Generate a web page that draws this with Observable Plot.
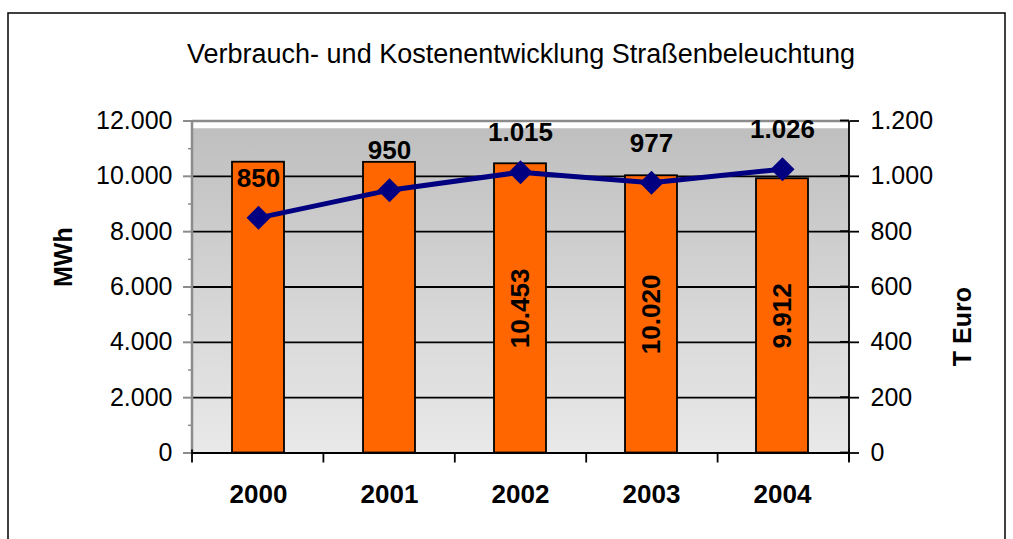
<!DOCTYPE html>
<html>
<head>
<meta charset="utf-8">
<script src="https://cdn.jsdelivr.net/npm/d3@7"></script>
<script src="https://cdn.jsdelivr.net/npm/@observablehq/plot@0.6"></script>
<style>
  html, body { margin: 0; padding: 0; background: white; }
  #chart svg { display: block; }
</style>
</head>
<body>
<div id="chart"></div>
<script>
// ---- data ----
const title = "Verbrauch- und Kostenentwicklung Straßenbeleuchtung";
const years = ["2000", "2001", "2002", "2003", "2004"];
const mwh = [10510, 10505, 10453, 10020, 9912];      // Verbrauch (MWh), left axis
const cost = [850, 950, 1015, 977, 1026];            // Kosten (T Euro), right axis
const showBarLabel = [false, false, true, true, true];
const mwhTicks = [0, 2000, 4000, 6000, 8000, 10000, 12000];
const mwhMinorTicks = [1000, 3000, 5000, 7000, 9000, 11000];
const costTicks = [0, 200, 400, 600, 800, 1000, 1200];
const leftLabel = "MWh";
const rightLabel = "T Euro";

const costFactor = 10; // 1 T Euro on right axis == 10 MWh on left axis
const fmt = d3.formatLocale({decimal: ",", thousands: ".", grouping: [3], currency: ["", " €"]}).format(",d");

const data = years.map((year, i) => ({year, mwh: mwh[i], cost: cost[i], showBar: showBarLabel[i]}));

const FONT = "'Liberation Sans', Arial, Helvetica, sans-serif";

function background(index, scales, values, dimensions) {
  const {width, marginLeft, marginRight} = dimensions;
  const g = d3.create("svg:g");
  const grad = g.append("defs").append("linearGradient")
    .attr("id", "bgGrad").attr("x1", 0).attr("y1", 0).attr("x2", 0).attr("y2", 1);
  grad.append("stop").attr("offset", "0%").attr("stop-color", "#bfbfbf");
  grad.append("stop").attr("offset", "100%").attr("stop-color", "#e9e9e9");
  const yTop = scales.y(11720), yBot = scales.y(0);
  g.append("rect")
    .attr("x", marginLeft).attr("width", width - marginLeft - marginRight)
    .attr("y", yTop).attr("height", yBot - yTop)
    .attr("fill", "url(#bgGrad)");
  return g.node();
}

function foreground(index, scales, values, dimensions) {
  const {width, height, marginLeft, marginRight} = dimensions;
  const x0 = marginLeft, x1 = width - marginRight;
  const yTop = scales.y(12000), y0 = scales.y(0);
  const g = d3.create("svg:g").attr("fill", "none");
  // left axis line (grey)
  g.append("line").attr("x1", x0).attr("x2", x0).attr("y1", yTop).attr("y2", y0)
    .attr("stroke", "#8c8c8c").attr("stroke-width", 2.5);
  // right axis line (black)
  g.append("line").attr("x1", x1).attr("x2", x1).attr("y1", yTop).attr("y2", y0 + 9)
    .attr("stroke", "black").attr("stroke-width", 1.8);
  // inner half of the right ticks
  for (const t of costTicks) {
    const y = scales.y(t * costFactor);
    g.append("line").attr("x1", x1 - 9).attr("x2", x1).attr("y1", y).attr("y2", y)
      .attr("stroke", "black").attr("stroke-width", 1.8);
  }
  // category boundary ticks on the x axis
  const step = (x1 - x0) / years.length;
  for (let i = 0; i <= years.length; ++i) {
    const x = x0 + i * step;
    g.append("line").attr("x1", x).attr("x2", x).attr("y1", y0 - (i === 0 || i === years.length ? 3 : 0)).attr("y2", y0 + 10)
      .attr("stroke", "black").attr("stroke-width", 1.8);
  }
  // outer chart border
  g.append("rect").attr("x", 8).attr("y", 13).attr("width", 997).attr("height", 560)
    .attr("stroke", "black").attr("stroke-width", 1.5);
  return g.node();
}

const chart = Plot.plot({
  width: 1013,
  height: 539,
  marginLeft: 192,
  marginRight: 164,
  marginTop: 120.5,
  marginBottom: 86.5,
  style: {fontFamily: FONT, background: "white", color: "black", overflow: "visible"},
  x: {domain: years, paddingInner: 0.6, paddingOuter: 0.3, axis: null},
  y: {domain: [0, 12000]},
  marks: [
    background,
    Plot.ruleY(mwhTicks.filter(t => t > 0 && t < 12000), {stroke: "black", strokeWidth: 1.8}),
    Plot.ruleY([12000], {stroke: "#8c8c8c", strokeWidth: 2.5}),
    Plot.barY(data, {x: "year", y: "mwh", fill: "#ff6600", stroke: "black", strokeWidth: 1.8}),
    Plot.ruleY([0], {stroke: "black", strokeWidth: 1.8}),
    Plot.line(data, {x: "year", y: d => d.cost * costFactor, stroke: "#000080", strokeWidth: 5}),
    Plot.dot(data, {x: "year", y: d => d.cost * costFactor, symbol: "diamond2", r: 10.8, fill: "#000080", stroke: "none"}),
    Plot.text(data, {x: "year", y: d => d.cost * costFactor, text: d => fmt(d.cost), dy: -39.3, lineAnchor: "middle",
      fontSize: 26, fontWeight: "bold", fill: "black"}),
    Plot.text(data.filter(d => d.showBar), {x: "year", y: d => d.mwh / 2, text: d => fmt(d.mwh), rotate: -90,
      lineAnchor: "middle", fontSize: 26, fontWeight: "bold", fill: "black"}),
    // x category labels
    Plot.text(data, {x: "year", frameAnchor: "bottom", text: "year", dy: 41.2, lineAnchor: "middle",
      fontSize: 26, fontWeight: "bold", fill: "black"}),
    // left axis
    Plot.axisY({ticks: mwhTicks, tickFormat: fmt, tickSize: 9, tickPadding: 11, fontSize: 25,
      stroke: "#8c8c8c", strokeWidth: 2, label: null}),
    Plot.axisY({ticks: mwhMinorTicks, tickFormat: () => "", tickSize: 4, tickPadding: 0,
      stroke: "#8c8c8c", strokeWidth: 1.5, label: null}),
    // right axis
    Plot.axisY({anchor: "right", ticks: costTicks.map(t => t * costFactor), tickFormat: d => fmt(d / costFactor),
      tickSize: 9, tickPadding: 12, fontSize: 25, stroke: "black", strokeWidth: 1.8, label: null}),
    // axis titles
    Plot.text([leftLabel], {frameAnchor: "left", text: d => d, rotate: -90, dx: -129, fontSize: 25, fontWeight: "bold", fill: "black"}),
    Plot.text([rightLabel], {frameAnchor: "right", text: d => d, rotate: -90, dx: 113, fontSize: 25, fontWeight: "bold", fill: "black"}),
    // title
    Plot.text([title], {frameAnchor: "top", text: d => d, dy: -67.1, lineAnchor: "middle", fontSize: 27, fill: "black"}),
    foreground
  ]
});

document.getElementById("chart").appendChild(chart);
</script>
</body>
</html>
